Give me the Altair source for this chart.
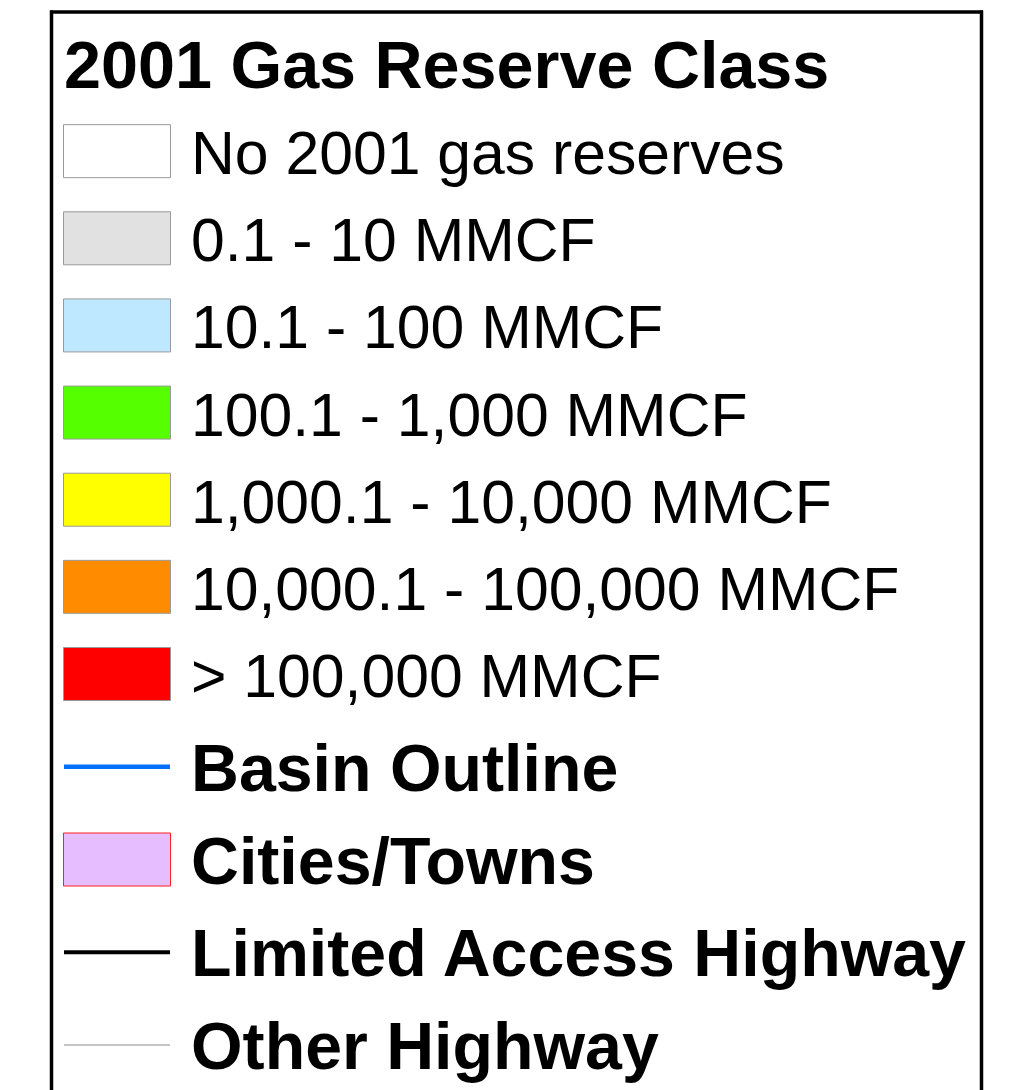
import altair as alt
import pandas as pd

title_text = "2001 Gas Reserve Class"
class_labels = [
    "No 2001 gas reserves",
    "0.1 - 10 MMCF",
    "10.1 - 100 MMCF",
    "100.1 - 1,000 MMCF",
    "1,000.1 - 10,000 MMCF",
    "10,000.1 - 100,000 MMCF",
    "> 100,000 MMCF",
]
class_colors = ["#ffffff", "#e1e1e1", "#bee8ff", "#55ff00", "#ffff00", "#ff8c00", "#ff0000"]
other_labels = ["Basin Outline", "Cities/Towns", "Limited Access Highway", "Other Highway"]
other_colors = ["#0070ff", "#e6beff", "#000000", "#b2b2b2"]

rows = []
for i, (l, c) in enumerate(zip(class_labels, class_colors)):
    rows.append({"row": i + 1, "label": l, "color": c, "group": "class"})
for j, (l, c) in enumerate(zip(other_labels, other_colors)):
    rows.append({"row": len(class_labels) + 1 + j, "label": l, "color": c, "group": "other"})
df = pd.DataFrame(rows)
title_df = pd.DataFrame({"row": [0], "label": [title_text]})

yscale = alt.Scale(domain=[0, 7, 11], range=[56, 666, 1037], nice=False, zero=False)
Y = alt.Y("row:Q", scale=yscale, axis=None)
FONT = "Liberation Sans"

base = alt.Chart(df)

title = alt.Chart(title_df).mark_text(
    align="left", baseline="alphabetic", dy=24, fontSize=66.5, fontWeight="bold", font=FONT, color="black"
).encode(x=alt.value(56), y=Y, text="label:N")

class_rects = base.transform_filter(alt.datum.group == "class").mark_rect(
    height=53, stroke="#9a9a9a", strokeWidth=1
).encode(x=alt.value(55.5), x2=alt.value(162.5), y=Y, fill=alt.Fill("color:N", scale=None))

class_text = base.transform_filter(alt.datum.group == "class").mark_text(
    align="left", baseline="alphabetic", dy=23, fontSize=60.7, font=FONT, color="black"
).encode(x=alt.value(183), y=Y, text="label:N")

cities = base.transform_filter(alt.datum.label == "Cities/Towns").mark_rect(
    height=53, stroke="#ff2020", strokeWidth=1
).encode(x=alt.value(55.5), x2=alt.value(162.5), y=Y, fill=alt.Fill("color:N", scale=None))

basin = base.transform_filter(alt.datum.label == "Basin Outline").mark_rule(strokeWidth=4.5).encode(
    x=alt.value(56), x2=alt.value(162), y=Y, color=alt.Color("color:N", scale=None)
)
limited = base.transform_filter(alt.datum.label == "Limited Access Highway").mark_rule(strokeWidth=4).encode(
    x=alt.value(56), x2=alt.value(162), y=Y, color=alt.Color("color:N", scale=None)
)
otherhw = base.transform_filter(alt.datum.label == "Other Highway").mark_rule(strokeWidth=1.5).encode(
    x=alt.value(56), x2=alt.value(162), y=Y, color=alt.Color("color:N", scale=None)
)

other_text = base.transform_filter(alt.datum.group == "other").mark_text(
    align="left", baseline="alphabetic", dy=24, fontSize=66.3, fontWeight="bold", font=FONT, color="black"
).encode(x=alt.value(183), y=Y, text="label:N")

frame_top = alt.Chart(title_df).mark_rule(color="black", strokeWidth=3.5).encode(
    x=alt.value(42), x2=alt.value(975), y=alt.value(4)
)
frame_left = alt.Chart(title_df).mark_rule(color="black", strokeWidth=3.5).encode(
    x=alt.value(43.5), y=alt.value(2.5), y2=alt.value(1090)
)
frame_right = alt.Chart(title_df).mark_rule(color="black", strokeWidth=3.5).encode(
    x=alt.value(973.5), y=alt.value(2.5), y2=alt.value(1090)
)

chart = alt.layer(
    frame_top, frame_left, frame_right,
    title, class_rects, class_text, cities, basin, limited, otherhw, other_text,
).properties(
    width=998, height=1082, padding=0, autosize=alt.AutoSizeParams(type="none"), background="white"
).configure_view(stroke=None)

chart.save("out.html", embed_options={"renderer": "svg", "actions": False})
